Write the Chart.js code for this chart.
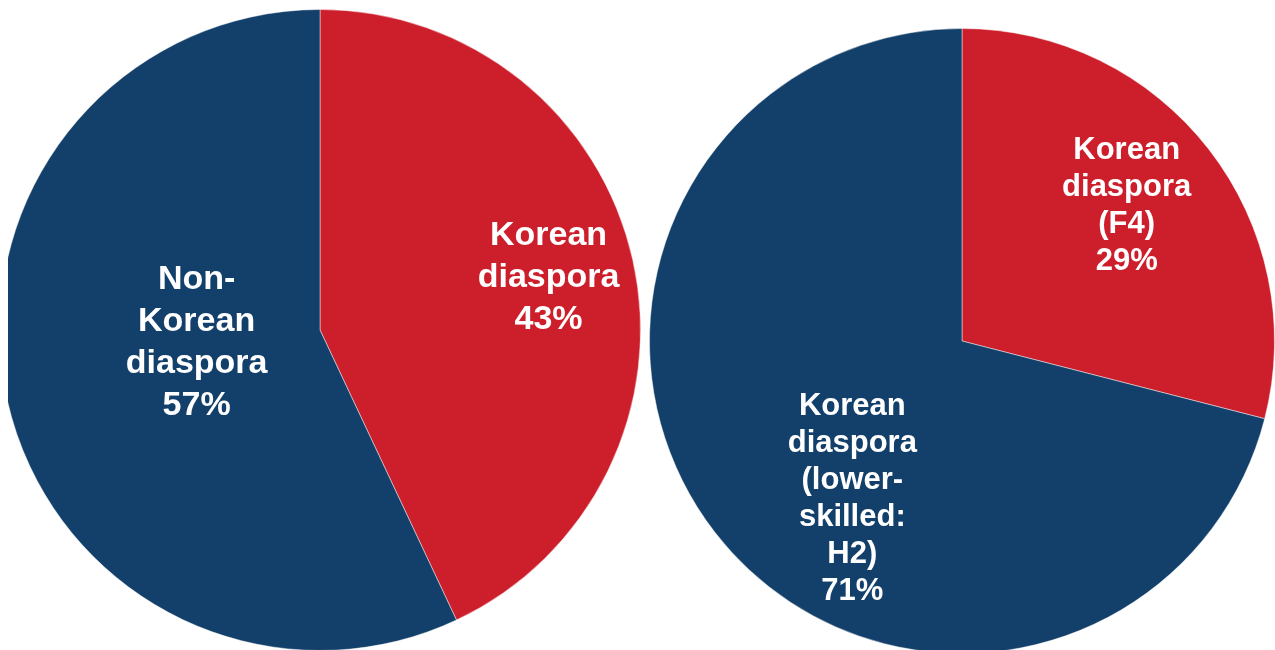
<!DOCTYPE html>
<html lang="en">
<head>
  <meta charset="UTF-8">
  <title>Korean diaspora share</title>
  <style>
    html, body {
      margin: 0;
      padding: 0;
      width: 1275px;
      height: 650px;
      overflow: hidden;
      background: #fff;
    }
    /* left pie is cut off by the frame on its left side */
    #leftWrap {
      position: absolute;
      left: 8px;
      top: 0;
      width: 640px;
      height: 650px;
      overflow: hidden;
    }
    #leftPie {
      position: absolute;
      left: -9px;
      top: 9px;
    }
    #rightPie {
      position: absolute;
      left: 649px;
      top: 28px;
    }
  </style>
</head>
<body>
  <div id="leftWrap"><canvas id="leftPie" width="642" height="642"></canvas></div>
  <canvas id="rightPie" width="626" height="626"></canvas>

  <script src="https://cdn.jsdelivr.net/npm/chart.js"></script>
  <script>
    // Left pie: all holders
    const leftLabels = [
      ['Korean', 'diaspora'],
      ['Non-', 'Korean', 'diaspora']
    ];
    const leftValues = [43, 57];

    // Right pie: Korean diaspora by visa type
    const rightLabels = [
      ['Korean', 'diaspora', '(F4)'],
      ['Korean', 'diaspora', '(lower-', 'skilled:', 'H2)']
    ];
    const rightValues = [29, 71];

    const red = '#CD1F2B';
    const blue = '#13406A';

    // label anchor, in units of the pie radius from its centre
    const leftLabelPos = [[0.713, -0.162], [-0.385, 0.04]];
    const rightLabelPos = [[0.527, -0.432], [-0.351, 0.504]];

    // writes the category lines and the percentage in each slice
    const sliceLabels = {
      id: 'sliceLabels',
      afterDatasetsDraw(chart, args, opts) {
        const c = chart.ctx;
        const meta = chart.getDatasetMeta(0);
        const values = chart.data.datasets[0].data;
        c.save();
        c.fillStyle = '#fff';
        c.textAlign = 'center';
        c.textBaseline = 'middle';
        c.font = 'bold ' + opts.size + 'px "Liberation Sans", Arial, sans-serif';
        meta.data.forEach((arc, i) => {
          const lines = chart.data.labels[i].concat([values[i] + '%']);
          const cx = arc.x + opts.pos[i][0] * arc.outerRadius;
          const cy = arc.y + opts.pos[i][1] * arc.outerRadius;
          const lh = opts.lineHeight;
          const top = cy - (lines.length - 1) * lh / 2;
          lines.forEach((t, k) => c.fillText(t, cx, top + k * lh));
        });
        c.restore();
      }
    };

    function makePie(id, labels, values, pos, size, lineHeight) {
      return new Chart(document.getElementById(id), {
        type: 'pie',
        data: {
          labels: labels,
          datasets: [{
            data: values,
            backgroundColor: [red, blue],
            borderColor: 'rgba(255,255,255,0.45)',
            borderWidth: 1
          }]
        },
        options: {
          responsive: false,
          animation: false,
          layout: { padding: 0 },
          plugins: {
            legend: { display: false },
            tooltip: { enabled: false },
            sliceLabels: { pos: pos, size: size, lineHeight: lineHeight }
          }
        },
        plugins: [sliceLabels]
      });
    }

    makePie('leftPie', leftLabels, leftValues, leftLabelPos, 34, 42);
    makePie('rightPie', rightLabels, rightValues, rightLabelPos, 31, 37);
  </script>
</body>
</html>
